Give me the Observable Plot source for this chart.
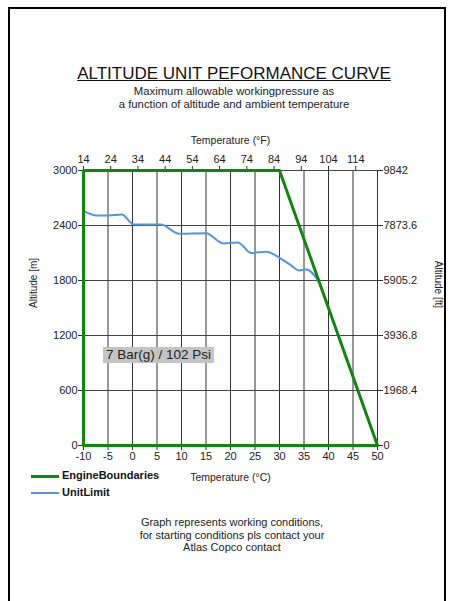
<!DOCTYPE html>
<html>
<head>
<meta charset="utf-8">
<script src="https://cdn.jsdelivr.net/npm/d3@7"></script>
<script src="https://cdn.jsdelivr.net/npm/@observablehq/plot@0.6"></script>
<style>
  html, body { margin: 0; padding: 0; background: #fff; }
  #page { position: relative; width: 452px; height: 601px; overflow: hidden; font-family: "Liberation Sans", Arial, sans-serif; color: #222; }
  #border { position: absolute; left: 8px; top: 7px; width: 434px; height: 600px; border: 2px solid #000; }
  .center { position: absolute; left: 0; width: 468px; text-align: center; }
  #title { top: 64px; font-size: 17px; text-decoration: underline; color: #111; }
  #subtitle { top: 85px; font-size: 11.3px; line-height: 13px; }
  #caption { top: 516px; font-size: 11px; line-height: 12.5px; left: 0; width: 464px; }
  #chart { position: absolute; left: 0; top: 125px; }
  .leg { position: absolute; left: 31px; font-size: 11px; font-weight: bold; color: #111; }
  .leg span.sw { display: inline-block; width: 28px; vertical-align: middle; margin-right: 3px; }
  #note { position: absolute; left: 103px; top: 347px; height: 16px; line-height: 16px; padding: 0 3px; background: #c4c4c4; font-size: 13.5px; color: #222; white-space: nowrap; }
</style>
</head>
<body>
<div id="page">
  <div id="border"></div>
  <div id="title" class="center">ALTITUDE UNIT PEFORMANCE CURVE</div>
  <div id="subtitle" class="center">Maximum allowable workingpressure as<br>a function of altitude and ambient temperature</div>
  <div id="chart"></div>
  <div id="note"></div>
  <div class="leg" style="top:469px"><span class="sw" style="border-top:3px solid #11860f"></span>EngineBoundaries</div>
  <div class="leg" style="top:486px"><span class="sw" style="border-top:2px solid #5595e0"></span>UnitLimit</div>
  <div id="caption" class="center">Graph represents working conditions,<br>for starting conditions pls contact your<br>Atlas Copco contact</div>
</div>
<script>
// ---- data ----
const celsiusTicks = [-10, -5, 0, 5, 10, 15, 20, 25, 30, 35, 40, 45, 50];
const fahrenheitTicks = [14, 24, 34, 44, 54, 64, 74, 84, 94, 104, 114];
const altitudeTicks = [0, 600, 1200, 1800, 2400, 3000];
const feetLabels = ["0", "1968.4", "3936.8", "5905.2", "7873.6", "9842"];

const engineTemp = [-10, -10, 30, 50, -10];
const engineAlt  = [0, 3000, 3000, 0, 0];

const unitTemp = [-10, -7.3, -5, -2.2, 0.3, 5.8, 9.5, 15, 18.5, 21.5, 24.2, 27.3, 30.5, 32.5, 34, 35.5, 38];
const unitAlt  = [2560, 2510, 2510, 2520, 2410, 2410, 2310, 2315, 2205, 2215, 2100, 2115, 2030, 1960, 1910, 1920, 1790];

const noteText = "7 Bar(g) / 102 Psi";
const xTitleTop = "Temperature (°F)";
const xTitleBottom = "Temperature (°C)";
const yTitleLeft = "Altitude [m]";
const yTitleRight = "Altitude [ft]";

// ---- build ----
const engine = engineTemp.map((t, i) => ({t, a: engineAlt[i]}));
const unit = unitTemp.map((t, i) => ({t, a: unitAlt[i]}));
const fToC = f => (f - 32) * 5 / 9;
const fPositions = fahrenheitTicks.map(fToC);

const chart = Plot.plot({
  width: 452,
  height: 380,
  marginLeft: 83,
  marginRight: 75,
  marginTop: 45,
  marginBottom: 60,
  style: {fontFamily: "'Liberation Sans', Arial, sans-serif", fontSize: "11px", color: "#222", background: "transparent"},
  x: {domain: [-10, 50]},
  y: {domain: [0, 3000]},
  marks: [
    Plot.gridX(celsiusTicks, {stroke: "#333", strokeOpacity: 1}),
    Plot.gridY(altitudeTicks, {stroke: "#444", strokeOpacity: 1}),
    Plot.axisX(celsiusTicks, {anchor: "bottom", tickSize: 5, tickPadding: 2, label: null, stroke: "#333",
      tickFormat: d => String(d)}),
    Plot.axisX(fPositions, {anchor: "top", tickSize: 5, tickPadding: 3, label: null, stroke: "#333",
      tickFormat: d => String(fahrenheitTicks[fPositions.indexOf(d)])}),
    Plot.axisY(altitudeTicks, {anchor: "left", tickSize: 5, tickPadding: 1, label: null, stroke: "#333",
      tickFormat: d => String(d)}),
    Plot.axisY(altitudeTicks, {anchor: "right", tickSize: 5, tickPadding: 1, label: null, stroke: "#333",
      tickFormat: d => feetLabels[altitudeTicks.indexOf(d)]}),
    Plot.text([xTitleTop], {frameAnchor: "top", dy: -34, text: d => d, fontSize: 10.5}),
    Plot.text([xTitleBottom], {frameAnchor: "bottom", dy: 35, text: d => d, fontSize: 10.5}),
    Plot.text([yTitleLeft], {frameAnchor: "left", dx: -50, rotate: -90, text: d => d, fontSize: 10}),
    Plot.text([yTitleRight], {frameAnchor: "right", dx: 61, rotate: 90, text: d => d, fontSize: 10}),
    Plot.line(unit, {x: "t", y: "a", stroke: "#5595e0", strokeWidth: 2, curve: "monotone-x"}),
    Plot.line(engine, {x: "t", y: "a", stroke: "#11860f", strokeWidth: 3})
  ]
});
document.getElementById("chart").appendChild(chart);
document.getElementById("note").textContent = noteText;
</script>
</body>
</html>
